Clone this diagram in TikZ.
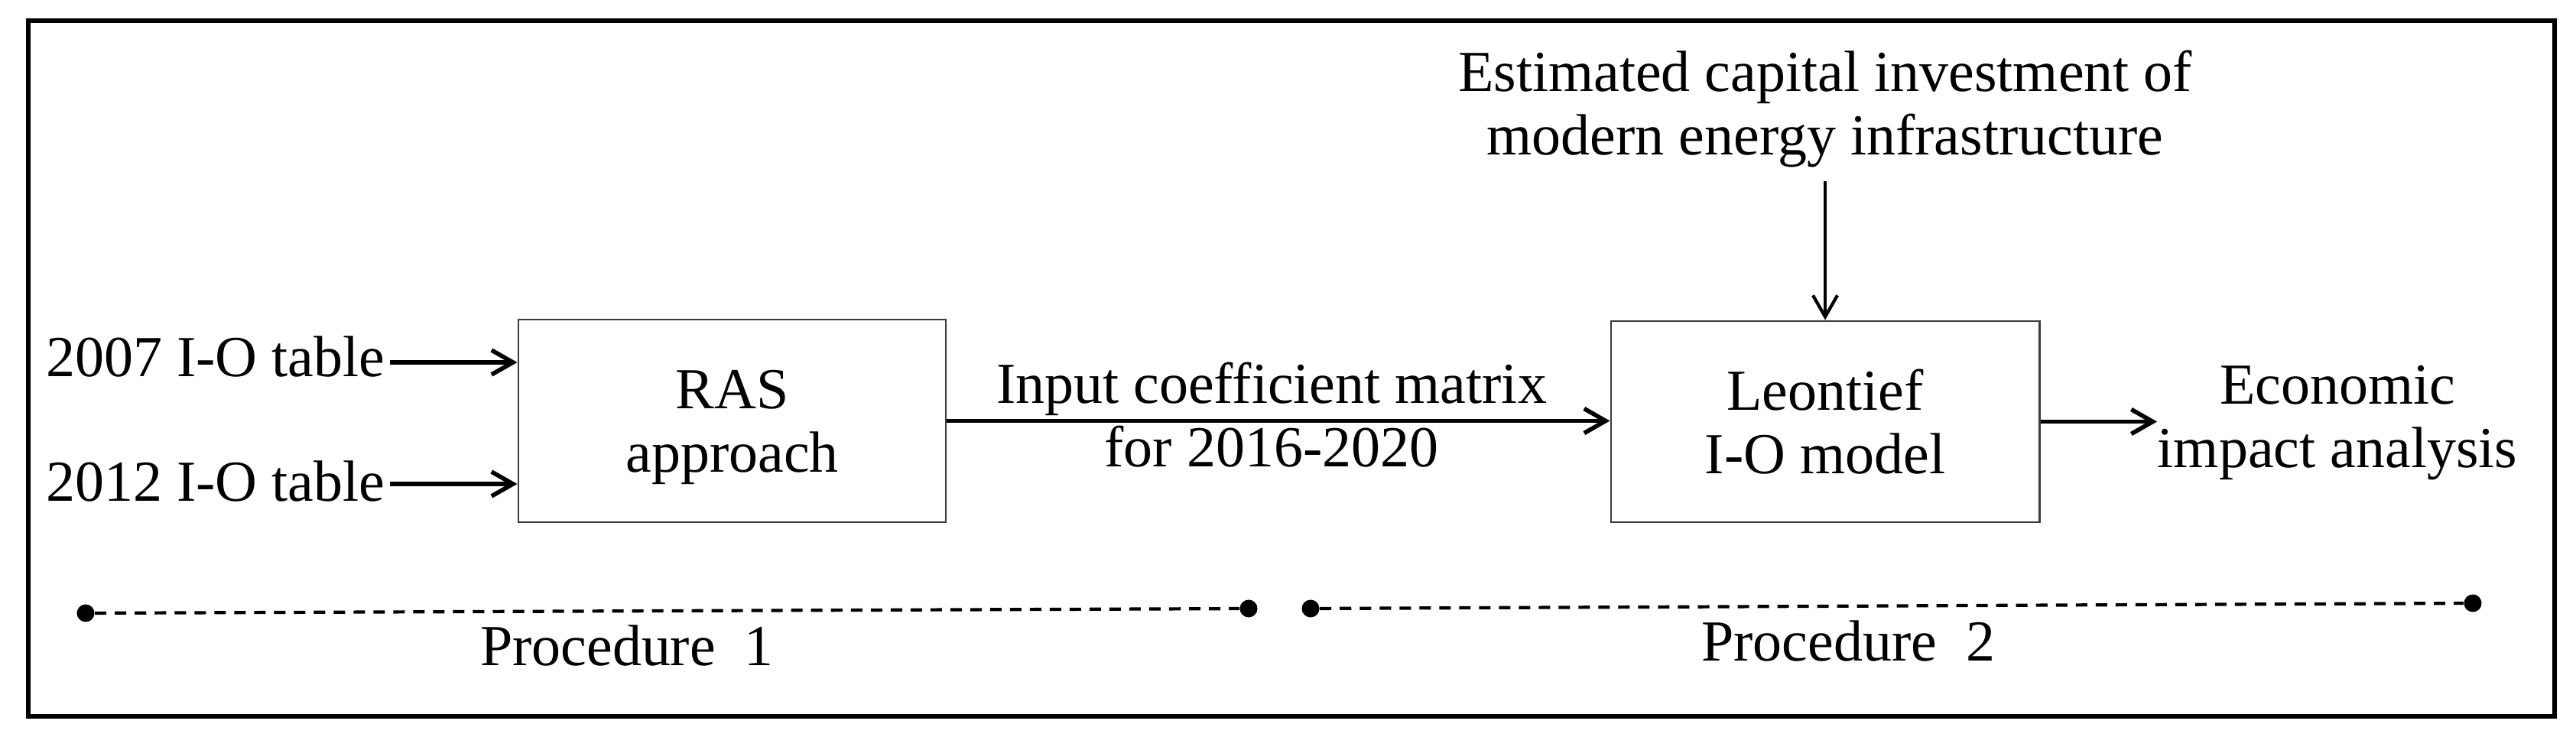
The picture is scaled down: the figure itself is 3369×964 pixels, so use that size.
\documentclass[tikz,border=0pt]{standalone}
\usepackage{fontspec}
\setmainfont{Liberation Serif}
\usetikzlibrary{arrows.meta}
\definecolor{boxgray}{HTML}{3A3A3A}
\begin{document}
\begin{tikzpicture}[x=0.01cm,y=-0.01cm,
  txt/.style={font=\fontsize{21.6pt}{23.6pt}\selectfont, inner sep=0pt, align=center},
  procbox/.style={txt, draw=boxgray, line width=0.75pt, inner sep=0pt, text depth=0pt},
  arr/.style={line width=1.6pt, -{Straight Barb[length=0.28cm,width=0.32cm]}},
  arrthin/.style={line width=1.2pt, -{Straight Barb[length=0.28cm,width=0.32cm]}},
  enddot/.style={circle, fill=black, inner sep=0pt, minimum size=0.23cm},
  dline/.style={line width=1.2pt, dash pattern=on 0.15cm off 0.11cm}
]
\fill[white] (0,0) rectangle (3369,964);
\useasboundingbox (0,0) rectangle (3369,964);
% outer frame
\draw[line width=1.6pt] (37,27) rectangle (3341,937);

% boxes
\node[procbox, minimum width=5.59cm, minimum height=2.65cm] (ras) at (957.5,550.5) {RAS\\approach};
\node[procbox, minimum width=5.6cm, minimum height=2.63cm] (leo) at (2387,551.5) {Leontief\\I-O model};

% texts
\node[txt, anchor=base east] (t07) at (504,493) {2007 I-O table};
\node[txt, anchor=base east] (t12) at (504,655) {2012 I-O table};
\node[txt] (est) at (2387,142) {Estimated capital investment of\\modern energy infrastructure};
\node[txt] (inp) at (1663,543) {Input coefficient matrix\\for 2016-2020};
\node[txt] (econ) at (3057,553) {Economic\\impact analysis};

% connectors
\coordinate (a07) at ([shift={(6,-19)}]t07.base east);
\coordinate (a12) at ([shift={(6,-22)}]t12.base east);
\draw[arr] (a07) -- (a07 -| ras.west);
\draw[arr] (a12) -- (a12 -| ras.west);
\draw[arr] (ras.east) -- (ras.east -| leo.west);
\draw[arr] (leo.east) -- (leo.east -| econ.west);
\draw[arrthin, shorten <=0.18cm] (est.south -| leo.north) -- (leo.north);

% procedure lines
\node[enddot] (p1a) at (112,802) {};
\node[enddot] (p1b) at (1633,796) {};
\node[enddot] (p2a) at (1714,796) {};
\node[enddot] (p2b) at (3234,789) {};
\draw[dline] (p1a) -- (p1b);
\draw[dline] (p2a) -- (p2b);
\node[txt, anchor=base] (proc1) at (820,870) {Procedure~~1};
\node[txt, anchor=base] (proc2) at (2417,864) {Procedure~~2};
\end{tikzpicture}
\end{document}
